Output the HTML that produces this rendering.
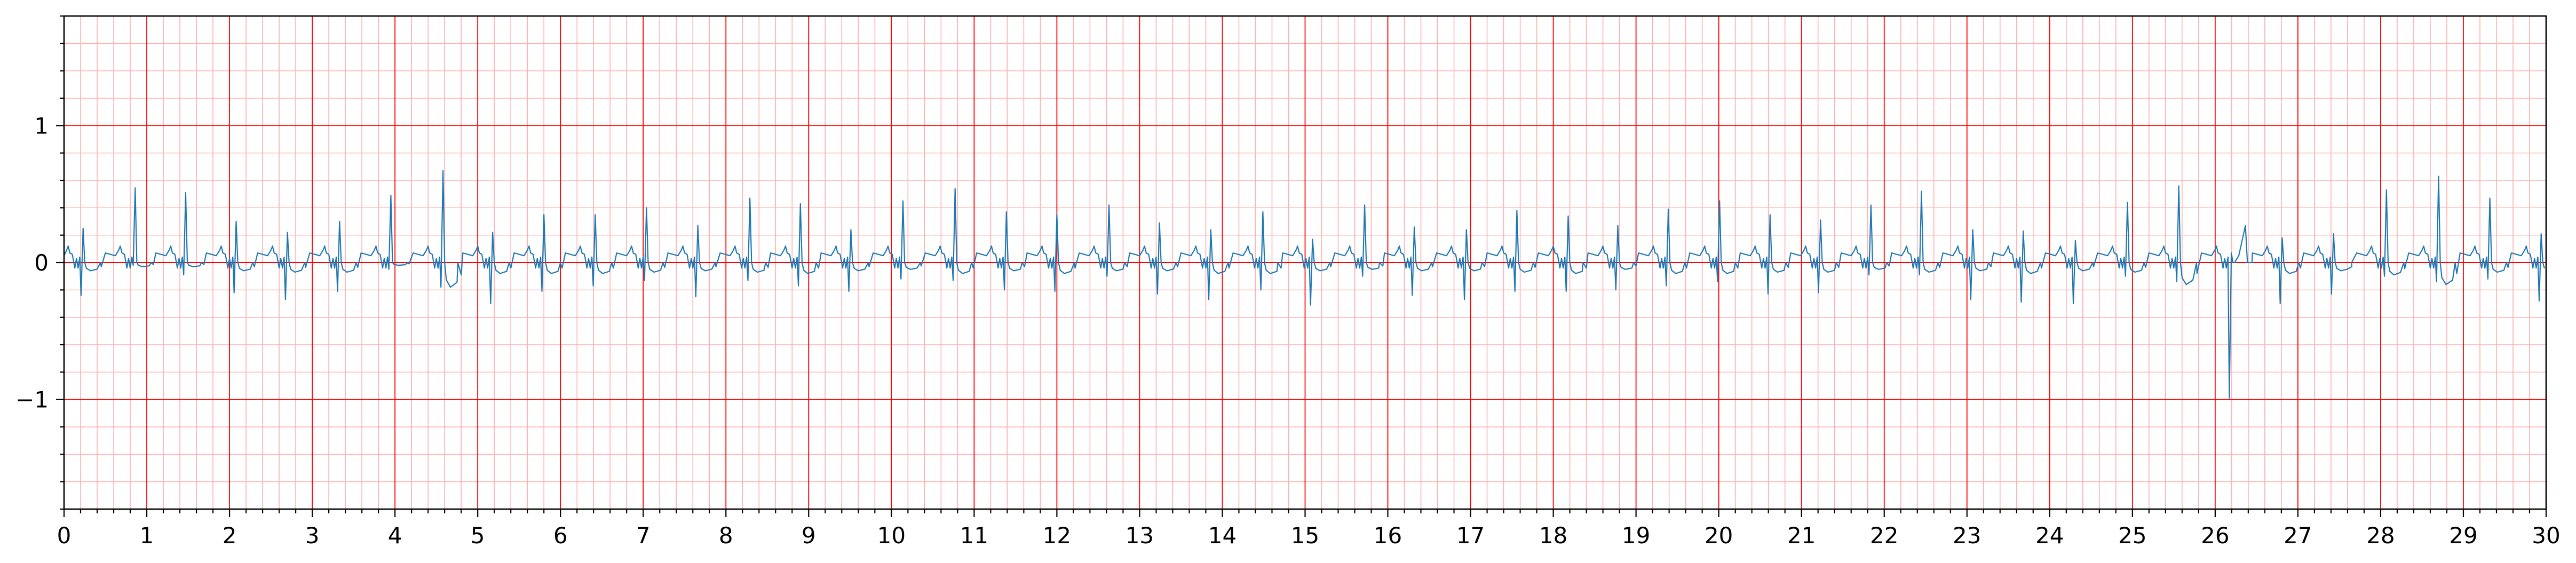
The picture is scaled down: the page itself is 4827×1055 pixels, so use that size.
<!DOCTYPE html>
<html><head><meta charset="utf-8"><style>
html,body{margin:0;padding:0;background:#fff;}
svg{display:block;}
text{font-family:"DejaVu Sans","Liberation Sans",sans-serif;font-size:42px;fill:#000;}
</style></head><body>
<svg id="chart" width="4827" height="1055" viewBox="0 0 4827 1055" xmlns="http://www.w3.org/2000/svg">
<rect x="0" y="0" width="4827" height="1055" fill="#fff"/>
<g id="grid"></g>
<g id="series"></g>
<g id="axes"></g>
</svg>
<script>
// R-peak times (s)
const beatTimes=[0.23,0.86,1.47,2.08,2.70,3.33,3.95,4.58,5.18,5.80,6.42,7.04,7.66,8.29,8.90,9.51,10.14,10.77,11.39,12.00,12.63,13.24,13.86,14.49,15.09,15.72,16.32,16.95,17.56,18.18,18.78,19.39,20.01,20.62,21.23,21.84,22.45,23.07,23.68,24.31,24.94,25.56,26.195,26.81,27.43,28.07,28.70,29.32,29.94];
// R-peak amplitudes
const rAmp=[0.25,0.545,0.51,0.30,0.22,0.30,0.49,0.67,0.22,0.35,0.35,0.40,0.27,0.47,0.43,0.24,0.45,0.54,0.37,0.35,0.42,0.29,0.24,0.37,0.17,0.42,0.26,0.24,0.38,0.34,0.27,0.39,0.45,0.35,0.31,0.42,0.52,0.24,0.23,0.16,0.44,0.56,0.07,0.18,0.21,0.53,0.63,0.47,0.21];
// Q/S trough amplitudes
const sAmp=[-0.24,-0.02,-0.09,-0.22,-0.27,-0.21,-0.05,-0.18,-0.30,-0.21,-0.17,-0.13,-0.25,-0.13,-0.17,-0.21,-0.12,-0.13,-0.20,-0.21,-0.10,-0.23,-0.27,-0.20,-0.31,-0.10,-0.24,-0.27,-0.21,-0.21,-0.20,-0.17,-0.14,-0.23,-0.22,-0.09,-0.09,-0.27,-0.29,-0.30,-0.10,-0.14,-0.99,-0.30,-0.23,-0.10,-0.14,-0.12,-0.28];
// post-QRS trough
const postDip=[-0.06,-0.03,-0.03,-0.06,-0.07,-0.07,-0.02,-0.18,-0.08,-0.08,-0.08,-0.07,-0.06,-0.07,-0.08,-0.06,-0.05,-0.08,-0.06,-0.08,-0.06,-0.06,-0.08,-0.08,-0.06,-0.05,-0.06,-0.06,-0.07,-0.08,-0.05,-0.08,-0.08,-0.07,-0.07,-0.05,-0.07,-0.06,-0.08,-0.06,-0.07,-0.16,0.0,-0.08,-0.06,-0.09,-0.16,-0.07,-0.06];
// T-like bump after QRS
const tAmp=[0,0,0,0,0,0,0,0,0,0,0,0,0,0,0,0,0,0,0,0,0,0,0,0,0,0,0,0,0,0,0,0,0,0,0,0,0,0,0,0,0,0,0.27,0,0,0,0,0,0];
const xTickLabels=["0","1","2","3","4","5","6","7","8","9","10","11","12","13","14","15","16","17","18","19","20","21","22","23","24","25","26","27","28","29","30"];
const yTickValues=[-1,0,1];
const yTickLabels=["\u22121","0","1"];

const X0=120,X1=4771,Y0=30,Y1=954,XMIN=0,XMAX=30,YMIN=-1.8,YMAX=1.8;
const sx=v=>X0+(v-XMIN)/(XMAX-XMIN)*(X1-X0);
const sy=v=>Y1-(v-YMIN)/(YMAX-YMIN)*(Y1-Y0);
const NS="http://www.w3.org/2000/svg";
function mk(tag,parent,attrs){const e=document.createElementNS(NS,tag);for(const k in attrs)e.setAttribute(k,attrs[k]);parent.appendChild(e);return e;}
const grid=document.getElementById('grid'),axes=document.getElementById('axes'),series=document.getElementById('series');

// minor grid
for(let i=0;i<=150;i++){const v=i*0.2;if(i%5===0)continue;const x=sx(v);
 const l=mk('line',grid,{x1:x,x2:x,y1:Y0,y2:Y1,stroke:'#ffb0b0','stroke-width':1.6});
 }
for(let i=-9;i<=9;i++){if(i%5===0)continue;const y=sy(i*0.2);
 const l=mk('line',grid,{x1:X0,x2:X1,y1:y,y2:y,stroke:'#ffb0b0','stroke-width':1.4});
 }
// major grid
for(let v=0;v<=30;v++){const x=sx(v);
 const l=mk('line',grid,{x1:x,x2:x,y1:Y0,y2:Y1,stroke:'#ff0000','stroke-width':1.8});
 }
yTickValues.forEach(v=>{const y=sy(v);
 const l=mk('line',grid,{x1:X0,x2:X1,y1:y,y2:y,stroke:'#ff0000','stroke-width':v===0?1.9:1.6});
 });

// series
const tpl=[[-0.42,0,0],[-0.36,0.07,0],[-0.30,0.06,0],[-0.24,0.05,0],[-0.20,0.09,0],[-0.18,0.12,0],[-0.16,0.07,0],[-0.13,0.06,0],[-0.10,-0.04,0],[-0.08,0.03,0],[-0.06,-0.04,0],[-0.04,0.04,0]];
let pts=[];
beatTimes.forEach((t,i)=>{
 tpl.forEach(p=>{const tt=t+p[0];if(tt>=0)pts.push([tt,p[1]]);});
 pts.push([t-0.024,sAmp[i]]);
 pts.push([t,rAmp[i]]);
 pts.push([t+0.02,0.0]);
 pts.push([t+0.04,postDip[i]*0.7]);
 if(tAmp[i]){pts.push([t+0.09,0.05]);pts.push([t+0.17,tAmp[i]]);pts.push([t+0.25,0.0]);}
 else{pts.push([t+0.09,postDip[i]]);pts.push([t+0.17,postDip[i]*0.8]);pts.push([t+0.22,postDip[i]*0.5]);}
});
pts=pts.filter(p=>p[0]<=30);
pts.unshift([0,0.05]);
pts.sort((a,b)=>a[0]-b[0]);
const line=mk('polyline',series,{points:pts.map(p=>sx(p[0]).toFixed(1)+','+sy(p[1]).toFixed(1)).join(' '),fill:'none',stroke:'#1f77b4','stroke-width':2.2,'stroke-linejoin':'round'});



// ticks
for(let i=0;i<=150;i++){const x=sx(i*0.2);const major=i%5===0;
 const t=mk('line',axes,{x1:x,x2:x,y1:Y1,y2:Y1+(major?15:8),stroke:'#000','stroke-width':2.2});
 }
xTickLabels.forEach((s,i)=>{const tx=mk('text',axes,{x:sx(i),y:1018,'text-anchor':'middle'});tx.textContent=s;
 });
for(let i=-9;i<=9;i++){const y=sy(i*0.2);const major=i%5===0;
 const t=mk('line',axes,{x1:X0,x2:X0-(major?15:8),y1:y,y2:y,stroke:'#000','stroke-width':2.2});
 }
yTickValues.forEach((v,i)=>{const tx=mk('text',axes,{x:91,y:sy(v)+15,'text-anchor':'end'});tx.textContent=yTickLabels[i];
 });
const frame=mk('rect',axes,{x:X0,y:Y0,width:X1-X0,height:Y1-Y0,fill:'none',stroke:'#000','stroke-width':2.6});


</script>
</body></html>
